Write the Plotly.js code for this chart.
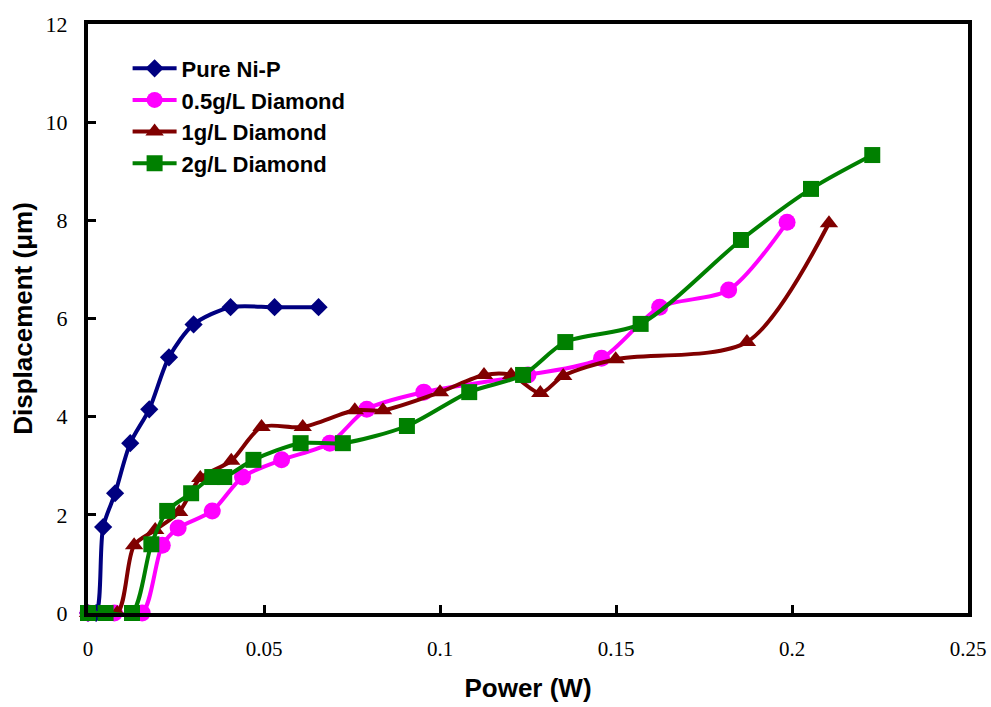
<!DOCTYPE html>
<html>
<head>
<meta charset="utf-8">
<script src="https://cdn.plot.ly/plotly-3.0.1.min.js"></script>
<style>html,body{margin:0;padding:0;background:#fff;}#chart{width:991px;height:707px;}</style>
</head>
<body>
<div id="chart"></div>
<script>
// Series names
const seriesNames = ["Pure Ni-P", "0.5g/L Diamond", "1g/L Diamond", "2g/L Diamond"];

// Pure Ni-P
const niP_x = [0, 0.0023, 0.0043, 0.0077, 0.012, 0.0174, 0.023, 0.030, 0.0405, 0.053, 0.0655];
const niP_y = [0, 0, 1.75, 2.44, 3.46, 4.15, 5.21, 5.88, 6.23, 6.23, 6.23];

// 0.5 g/L Diamond
const d05_x = [0, 0.0075, 0.0154, 0.0211, 0.0256, 0.0353, 0.0439, 0.055, 0.0687, 0.0792, 0.0954, 0.125, 0.1459, 0.1624, 0.182, 0.1986];
const d05_y = [0, 0, 0, 1.38, 1.73, 2.08, 2.77, 3.12, 3.46, 4.15, 4.50, 4.85, 5.19, 6.23, 6.58, 7.96];

// 1 g/L Diamond
const d1_x = [0, 0.0083, 0.0131, 0.0191, 0.0259, 0.0319, 0.0407, 0.0493, 0.061, 0.0758, 0.0838, 0.1, 0.1125, 0.1202, 0.1285, 0.135, 0.1499, 0.1872, 0.2105];
const d1_y = [0, 0, 1.38, 1.69, 2.06, 2.75, 3.10, 3.79, 3.79, 4.13, 4.13, 4.50, 4.85, 4.85, 4.48, 4.83, 5.17, 5.52, 7.94];

// 2 g/L Diamond
const d2_x = [0, 0.005, 0.0125, 0.018, 0.0225, 0.0293, 0.0353, 0.0387, 0.047, 0.0604, 0.0724, 0.0906, 0.1083, 0.1236, 0.1356, 0.157, 0.1855, 0.2054, 0.2228];
const d2_y = [0, 0, 0, 1.40, 2.08, 2.44, 2.77, 2.77, 3.12, 3.46, 3.46, 3.81, 4.50, 4.85, 5.52, 5.89, 7.60, 8.64, 9.33];

// Axis ticks
const xTicks = [0, 0.05, 0.1, 0.15, 0.2, 0.25];
const xTickText = ["0", "0.05", "0.1", "0.15", "0.2", "0.25"];
const yTicks = [0, 2, 4, 6, 8, 10, 12];

const colors = ["#000080", "#FF00FF", "#800000", "#008000"];
const symbols = ["diamond", "circle", "triangle-up", "square"];
const sizes = [14, 17, 16, 16];
const groups = ["g1", "g2", "g3", "g4"];
const xs = [niP_x, d05_x, d1_x, d2_x];
const ys = [niP_y, d05_y, d1_y, d2_y];

const data = seriesNames.map((n, i) => ({
  x: xs[i], y: ys[i], name: n, type: "scatter", mode: "lines+markers",
  legendgroup: groups[i],
  line: {color: colors[i], width: 4, shape: "spline", smoothing: 0.8},
  marker: {color: colors[i], symbol: symbols[i], size: sizes[i], line: {width: 0}},
  cliponaxis: false
}));

const layout = {
  width: 991, height: 707,
  margin: {l: 88, r: 23, t: 24, b: 94},
  paper_bgcolor: "#fff", plot_bgcolor: "#fff",
  showlegend: true,
  legend: {
    x: 0.045, y: 0.96, xanchor: "left", yanchor: "top",
    bgcolor: "rgba(0,0,0,0)", borderwidth: 0,
    font: {family: "Liberation Sans, Arial, sans-serif", size: 22, color: "#000", weight: "bold"},
    traceorder: "grouped", tracegroupgap: 0, itemwidth: 44
  },
  xaxis: {
    range: [0, 0.25], tickvals: xTicks, ticktext: xTickText,
    showgrid: false, zeroline: false,
    showline: true, linecolor: "#000", linewidth: 4, mirror: true,
    ticks: "inside", ticklen: 8, tickwidth: 3, tickcolor: "#000",
    ticklabelstandoff: 14,
    tickfont: {family: "Liberation Serif, Times New Roman, serif", size: 21, color: "#000"},
    title: {text: "<b>Power (W)</b>", font: {family: "Liberation Sans, Arial, sans-serif", size: 26, color: "#000"}, standoff: 20}
  },
  yaxis: {
    range: [0, 12], tickvals: yTicks,
    showgrid: false, zeroline: false,
    showline: true, linecolor: "#000", linewidth: 4, mirror: true,
    ticks: "inside", ticklen: 8, tickwidth: 3, tickcolor: "#000",
    ticklabelstandoff: 12,
    tickfont: {family: "Liberation Serif, Times New Roman, serif", size: 22, color: "#000"},
    title: {text: "<b>Displacement (μm)</b>", font: {family: "Liberation Sans, Arial, sans-serif", size: 26, color: "#000"}, standoff: 6}
  }
};

Plotly.newPlot("chart", data, layout, {displayModeBar: false, staticPlot: true});
</script>
</body>
</html>
